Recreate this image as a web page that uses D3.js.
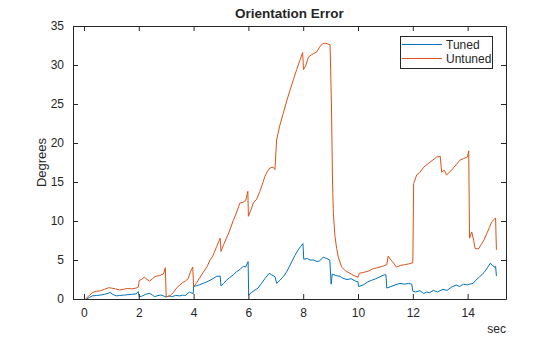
<!DOCTYPE html>
<html><head><meta charset="utf-8">
<script src="https://cdn.jsdelivr.net/npm/d3@7"></script>
<style>body{margin:0;background:#fff}svg{display:block;font-family:Arial,"Liberation Sans",Helvetica,sans-serif}</style>
</head><body><svg id="c" width="560" height="337"></svg>
<script>
const title = "Orientation Error";
const xLabel = "sec";
const yLabel = "Degrees";
const seriesNames = ["Tuned", "Untuned"];
const seriesColors = ["#0072BD", "#D95319"];
const xTicks = [0, 2, 4, 6, 8, 10, 12, 14];
const yTicks = [0, 5, 10, 15, 20, 25, 30, 35];

const untunedT = [0.05,0.15,0.3,0.45,0.6,0.75,0.9,1.0,1.15,1.3,1.45,1.6,1.75,1.9,1.98,2.02,2.1,2.2,2.3,2.4,2.5,2.6,2.75,2.9,2.97,3.0,3.1,3.2,3.3,3.4,3.5,3.6,3.7,3.8,3.9,3.97,4.0,4.1,4.2,4.35,4.5,4.6,4.7,4.84,4.97,5.0,5.1,5.2,5.3,5.45,5.55,5.69,5.8,5.9,5.98,6.0,6.1,6.18,6.3,6.42,6.5,6.6,6.7,6.79,6.9,6.97,7.03,7.15,7.27,7.4,7.52,7.64,7.76,7.88,7.98,8.01,8.1,8.19,8.3,8.4,8.5,8.6,8.7,8.8,8.9,8.98,9.03,9.07,9.1,9.16,9.22,9.28,9.4,9.55,9.7,9.85,10.0,10.05,10.2,10.4,10.56,10.7,10.9,11.05,11.1,11.2,11.3,11.4,11.55,11.7,11.85,12.0,12.03,12.14,12.25,12.4,12.5,12.65,12.8,12.87,13.0,13.05,13.15,13.23,13.35,13.47,13.6,13.72,13.85,13.99,14.04,14.07,14.15,14.22,14.27,14.39,14.5,14.6,14.7,14.8,14.88,14.97,15.02,15.05];
const untunedV = [0,0.3,0.8,1.0,1.05,1.25,1.45,1.4,1.3,1.15,1.25,1.35,1.3,1.4,1.5,2.4,2.5,2.8,2.5,2.3,2.6,2.9,3.0,3.2,4.0,0.3,0.35,0.6,1.0,1.5,1.8,2.1,2.3,2.6,3.6,4.1,1.6,2.0,2.6,3.4,4.2,5.0,5.5,6.7,7.8,6.1,7.0,7.8,8.6,10.1,10.9,12.3,12.4,12.6,13.8,10.6,11.5,12.3,12.8,13.8,14.6,15.7,16.4,16.8,16.9,16.6,20.4,22.3,23.8,25.4,26.8,28.1,29.4,30.6,31.6,29.4,30.0,31.0,31.3,31.5,31.7,32.3,32.7,32.8,32.7,32.6,25.0,15.0,11.0,8.0,6.5,5.4,4.1,3.6,3.3,3.0,2.8,3.3,3.4,3.6,3.9,4.0,4.2,4.4,5.5,5.0,4.6,4.1,4.3,4.4,4.5,4.65,14.8,15.9,16.2,16.9,17.2,17.6,18.0,18.2,18.3,16.3,16.5,15.9,16.3,16.75,17.3,17.8,18.0,18.2,19.0,7.8,8.6,7.5,6.5,6.4,7.0,7.6,8.4,9.2,9.9,10.2,10.4,6.3];

const tunedT = [0.1,0.2,0.3,0.45,0.6,0.75,0.9,0.95,1.05,1.18,1.3,1.45,1.6,1.75,1.9,1.98,2.02,2.1,2.25,2.4,2.5,2.58,2.7,2.8,2.9,3.0,3.1,3.2,3.35,3.5,3.6,3.7,3.85,3.9,3.99,4.0,4.1,4.2,4.35,4.48,4.6,4.7,4.84,4.97,5.0,5.1,5.2,5.3,5.45,5.57,5.7,5.81,5.9,5.99,6.01,6.1,6.24,6.35,6.48,6.6,6.76,6.85,6.97,7.03,7.15,7.28,7.4,7.5,7.6,7.7,7.8,7.9,7.99,8.02,8.15,8.25,8.37,8.5,8.6,8.73,8.85,8.97,9.02,9.06,9.2,9.35,9.45,9.6,9.75,9.9,10.0,10.02,10.19,10.35,10.5,10.65,10.8,10.95,11.02,11.05,11.2,11.35,11.53,11.7,11.85,11.96,12.0,12.1,12.26,12.4,12.5,12.6,12.75,12.9,13.1,13.25,13.4,13.58,13.7,13.85,14.0,14.07,14.2,14.3,14.44,14.6,14.72,14.83,14.9,14.98,15.02,15.05];
const tunedV = [0,0.2,0.4,0.45,0.5,0.6,0.75,0.85,0.6,0.4,0.45,0.5,0.55,0.6,0.65,0.95,0.3,0.35,0.6,0.73,0.5,0.3,0.45,0.5,0.4,0.25,0.4,0.3,0.45,0.4,0.5,0.45,0.9,0.8,0.7,1.6,1.7,1.8,2.0,2.2,2.4,2.6,2.9,2.95,1.67,2.0,2.4,2.7,3.1,3.5,3.8,4.2,4.1,4.8,0.5,0.8,1.15,1.4,2.0,2.6,3.3,3.1,2.86,2.0,2.4,2.9,3.5,4.2,4.9,5.6,6.2,6.7,7.1,5.1,5.2,5.0,5.0,4.8,4.9,5.35,5.2,5.0,1.9,3.2,3.0,2.9,2.65,2.5,2.6,2.3,2.2,1.6,1.8,2.2,2.4,2.6,2.85,3.1,3.1,1.4,1.6,1.8,2.0,1.9,2.0,1.9,1.0,0.9,1.06,0.7,0.9,0.8,1.1,0.9,1.24,1.1,1.5,1.8,1.6,1.9,1.8,1.9,2.0,2.4,2.86,3.4,4.0,4.6,4.3,4.1,4.2,2.95];

const svg = d3.select("#c");
const L = 73, R = 506, T = 26, B = 299;
const x = d3.scaleLinear().domain([-0.4, 15.4]).range([L, R]);
const y = d3.scaleLinear().domain([0, 35]).range([B, T]);
const ink = "#262626";

const line = d3.line().x(d => x(d[0])).y(d => y(d[1]));
const tuned = tunedT.map((t, i) => [t, tunedV[i]]);
const untuned = untunedT.map((t, i) => [t, untunedV[i]]);

svg.append("path").datum(tuned).attr("d", line).attr("fill", "none")
  .attr("stroke", seriesColors[0]).attr("stroke-width", 1).attr("stroke-linejoin", "round");
svg.append("path").datum(untuned).attr("d", line).attr("fill", "none")
  .attr("stroke", seriesColors[1]).attr("stroke-width", 1).attr("stroke-linejoin", "round");

function styleAxis(g) {
  g.selectAll("path").attr("stroke", ink);
  g.selectAll("line").attr("stroke", ink);
  g.selectAll("text").attr("fill", ink).style("font-size", "12px");
}
svg.append("g").attr("transform", `translate(0,${B})`)
  .call(d3.axisBottom(x).tickValues(xTicks).tickSizeInner(-5).tickSizeOuter(0).tickPadding(9))
  .call(styleAxis);
svg.append("g").attr("transform", `translate(0,${T})`)
  .call(d3.axisTop(x).tickValues(xTicks).tickSizeInner(-5).tickSizeOuter(0).tickFormat(""))
  .call(styleAxis);
svg.append("g").attr("transform", `translate(${L},0)`)
  .call(d3.axisLeft(y).tickValues(yTicks).tickSizeInner(-5).tickSizeOuter(0).tickPadding(9))
  .call(styleAxis);
svg.append("g").attr("transform", `translate(${R},0)`)
  .call(d3.axisRight(y).tickValues(yTicks).tickSizeInner(-5).tickSizeOuter(0).tickFormat(""))
  .call(styleAxis);

svg.append("text").attr("x", (L + R) / 2).attr("y", 18).attr("text-anchor", "middle")
  .attr("font-weight", "bold").attr("font-size", "13.5px").attr("fill", ink).text(title);
svg.append("text").attr("x", R).attr("y", 333).attr("text-anchor", "end")
  .attr("font-size", "12px").attr("fill", ink).text(xLabel);
svg.append("text").attr("transform", `translate(46,${(T + B) / 2}) rotate(-90)`)
  .attr("text-anchor", "middle").attr("font-size", "13px").attr("fill", ink).text(yLabel);

const lg = svg.append("g");
lg.append("rect").attr("x", 400.5).attr("y", 36.5).attr("width", 92).attr("height", 32)
  .attr("fill", "#fff").attr("stroke", ink).attr("stroke-width", 1);
seriesNames.forEach((n, i) => {
  const yy = 44.5 + i * 14;
  lg.append("line").attr("x1", 402).attr("x2", 442).attr("y1", yy).attr("y2", yy)
    .attr("stroke", seriesColors[i]).attr("stroke-width", 1);
  lg.append("text").attr("x", 446).attr("y", yy + 4).attr("font-size", "12px").attr("fill", ink).text(n);
});
</script></body></html>
